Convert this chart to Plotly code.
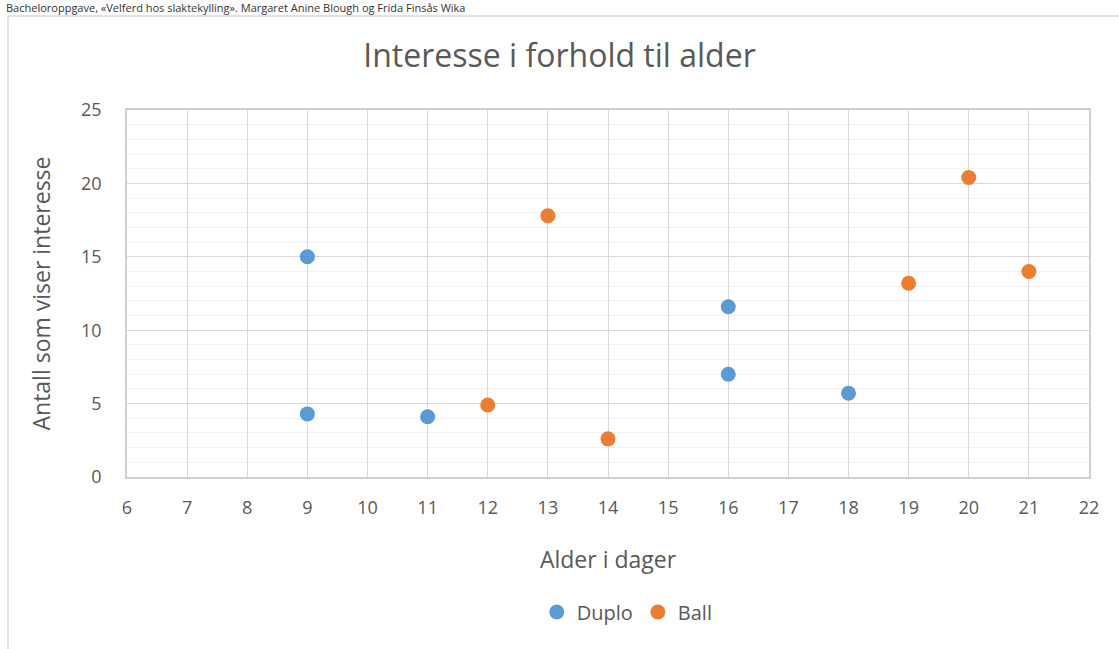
import plotly.graph_objects as go

duplo_x = [9, 9, 11, 16, 16, 18]
duplo_y = [15.0, 4.3, 4.1, 11.6, 7.0, 5.7]
ball_x = [12, 13, 14, 19, 20, 21]
ball_y = [4.9, 17.8, 2.6, 13.2, 20.4, 14.0]

FONT = "Open Sans"
GREY = "#595959"
fig = go.Figure()
fig.add_trace(go.Scatter(x=duplo_x, y=duplo_y, mode="markers", name="Duplo",
                         marker=dict(color="#5B9BD5", size=15)))
fig.add_trace(go.Scatter(x=ball_x, y=ball_y, mode="markers", name="Ball",
                         marker=dict(color="#ED7D31", size=15)))

W, H = 1119, 649
L, R, T, B = 127, 30, 110, 172
pw, ph = W - L - R, H - T - B

def px(xp):
    return (xp - L) / pw

def py(yp):
    return (H - B - yp) / ph

fig.update_layout(
    width=W, height=H,
    margin=dict(l=L, r=R, t=T, b=B, autoexpand=False),
    paper_bgcolor="white", plot_bgcolor="white",
    font=dict(family=FONT, color=GREY),
    title=dict(text="Interesse i forhold til alder", x=0.5, xanchor="center",
               y=1 - 56 / H, yanchor="middle",
               font=dict(size=32, color=GREY, family=FONT)),
    xaxis=dict(range=[6, 22], dtick=1, tick0=6, showgrid=True, gridcolor="#D9D9D9",
               gridwidth=1.3, zeroline=False, showline=True, linecolor="#D0D0D0",
               linewidth=1.5, mirror=True, ticks="outside", ticklen=14,
               tickcolor="rgba(0,0,0,0)",
               tickfont=dict(size=18, color=GREY),
               title=dict(text="Alder i dager", font=dict(size=23, color=GREY),
                          standoff=34)),
    yaxis=dict(range=[0, 25], dtick=5, showgrid=True, gridcolor="#D9D9D9",
               gridwidth=1.3, zeroline=False, showline=True, linecolor="#D0D0D0",
               linewidth=1.5, mirror=True, ticks="outside", ticklen=20,
               tickcolor="rgba(0,0,0,0)",
               minor=dict(dtick=1, showgrid=True, gridcolor="#F2F2F2", gridwidth=1.3),
               tickfont=dict(size=18, color=GREY),
               title=dict(text="Antall som viser interesse",
                          font=dict(size=23, color=GREY), standoff=24)),
    legend=dict(orientation="h", x=0.52, xanchor="center", y=py(612), yanchor="middle",
                font=dict(size=20, color=GREY), itemwidth=30,
                bgcolor="rgba(0,0,0,0)"),
    shapes=[dict(type="rect", xref="paper", yref="paper",
                 x0=px(8), x1=px(1140), y0=py(680), y1=py(16),
                 line=dict(color="#D9D9D9", width=1.5), fillcolor="rgba(0,0,0,0)",
                 layer="below")],
    annotations=[dict(text="Bacheloroppgave, «Velferd hos slaktekylling». Margaret Anine Blough og Frida Finsås Wika",
                      xref="paper", yref="paper", x=px(4), y=py(8), xanchor="left",
                      yanchor="middle", showarrow=False,
                      font=dict(size=11, color="#333333", family=FONT))],
)

fig.write_html("out.html", config={"displayModeBar": False},
               post_script="document.body.style.margin='0';")
